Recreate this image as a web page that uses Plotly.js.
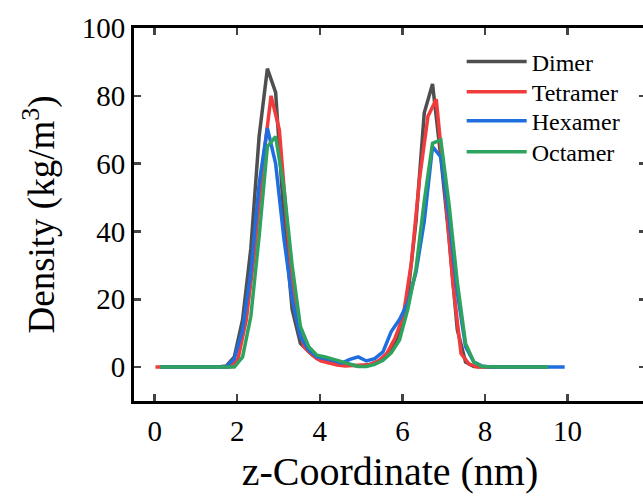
<!DOCTYPE html>
<html>
<head>
<meta charset="utf-8">
<script src="https://cdn.plot.ly/plotly-3.0.1.min.js"></script>
<style>
html, body { margin:0; padding:0; overflow:hidden; background:#fff; }
#chart { width:660px; height:504px; }
</style>
</head>
<body>
<div id="chart"></div>
<script>
// z-coordinate grids (nm)
const zA = [0.13,0.33,0.53,0.73,0.93,1.13,1.33,1.53,1.73,1.93,2.13,2.33,2.53,2.73,2.93,3.13,3.33,3.53,3.73,3.93,4.13,4.33,4.53,4.73,4.93,5.13,5.33,5.53,5.73,5.93,6.13,6.33,6.53,6.73,6.93,7.13,7.33,7.53,7.73,7.93,8.13,8.33,8.53,8.73,8.93,9.13,9.33,9.53,9.73,9.93];
const zB = [0.02,0.22,0.42,0.62,0.82,1.02,1.22,1.42,1.62,1.82,2.02,2.22,2.42,2.62,2.82,3.02,3.22,3.42,3.62,3.82,4.02,4.22,4.42,4.62,4.82,5.02,5.22,5.42,5.62,5.82,6.02,6.22,6.42,6.62,6.82,7.02,7.22,7.42,7.62,7.82,8.02,8.22,8.42,8.62,8.82,9.02,9.22,9.42];

// Density (kg/m^3)
const dimer = [0,0,0,0,0,0,0,0,0.3,3,14,35,68,88,81,44,17,7,4.5,2.5,2,1.5,1,0.6,0.3,0.5,1.2,2.5,5,10,21,43,75,83.5,62,38,11,1.5,0.2,0,0,0,0,0,0,0,0,0];
const tetramer = [0,0,0,0,0,0,0,0,0,0,2.5,14,34,60,80,70,40,15,6,3.5,1.8,1.2,0.6,0.3,0.5,0.5,0.8,1.8,4,8.5,15,31,56,74,79,54,25,4,0.8,0,0,0,0,0,0,0,0,0];
const hexamer = [0,0,0,0,0,0,0,0,0,2.5,11,28,54,70.5,60,38,20,9,5,3,2.5,2,1.2,2.3,3,1.8,2.5,4.5,10.5,14,19,28,43,65,62,44,22,6,1.5,0.3,0,0,0,0,0,0,0,0,0,0];
const octamer = [0,0,0,0,0,0,0,0,0,0,3,15,38.5,65,68,53,30,12,6,3.5,3,2.3,1.6,0.7,0.2,0.2,0.8,2,4.2,8,17,29,49,66,67,48,25,7,1.5,0.2,0,0,0,0,0,0,0,0];

const names = ["Dimer","Tetramer","Hexamer","Octamer"];
const colors = ["#4f4f4f","#f23c3c","#1f6ee0","#2ea35f"];
const xTicks = [0,2,4,6,8,10];
const yTicks = [0,20,40,60,80,100];

const font = "Liberation Serif, Times New Roman, serif";
const series = [[zA,dimer],[zB,tetramer],[zA,hexamer],[zA,octamer]];
const legendIds = ["legend","legend2","legend3","legend4"];
const legendRowY = [0.909,0.828,0.750,0.667];

const traces = series.map((s,i)=>({
  x: s[0].slice(0, s[1].length), y: s[1], type:'scatter', mode:'lines', name:names[i],
  legend: legendIds[i],
  line:{color:colors[i], width:3.5}
}));

const layout = {
  width:660, height:504,
  margin:{l:134, r:14, t:28, b:103},
  paper_bgcolor:'#fff', plot_bgcolor:'#fff',
  font:{family:font, color:'#000'},
  showlegend:true,
  xaxis:{range:[-0.5,11.9], tickvals:xTicks, ticktext:xTicks.map(String), ticks:'inside', ticklen:7, tickwidth:2.5,
         showline:true, linewidth:3, linecolor:'#000', mirror:'ticks', showgrid:false, zeroline:false,
         ticklabelstandoff:2,
         tickfont:{family:font, size:29, color:'#000'},
         title:{text:'z-Coordinate (nm)', font:{family:font, size:40, color:'#000'}, standoff:12}},
  yaxis:{range:[-10,100], tickvals:yTicks, ticktext:yTicks.map(String), ticks:'inside', ticklen:7, tickwidth:2.5,
         showline:true, linewidth:3, linecolor:'#000', mirror:'ticks', showgrid:false, zeroline:false,
         tickfont:{family:font, size:29, color:'#000'},
         title:{text:'Density (kg/m<sup>3</sup>)', font:{family:font, size:37, color:'#000'}, standoff:16}}
};
legendIds.forEach((id,i)=>{
  layout[id] = {x:0.64, xanchor:'left', y:legendRowY[i], yanchor:'middle',
    font:{family:font, size:24, color:'#000'}, bgcolor:'rgba(0,0,0,0)', borderwidth:0, itemwidth:60};
});
Plotly.newPlot('chart', traces, layout, {displayModeBar:false, staticPlot:true});
</script>
</body>
</html>
